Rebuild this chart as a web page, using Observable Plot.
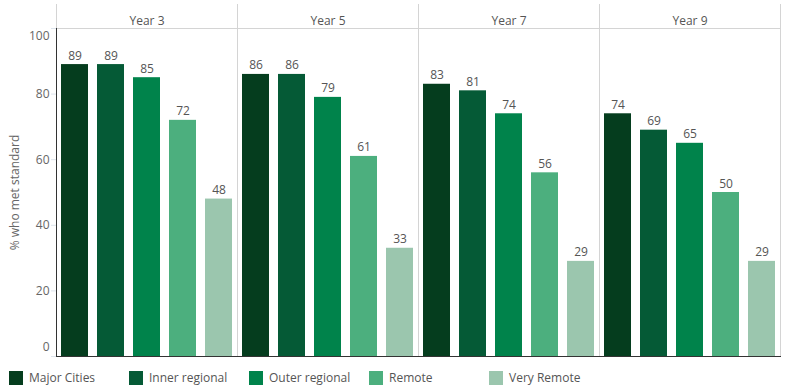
<!DOCTYPE html>
<html><head><meta charset="utf-8">
<script src="https://cdn.jsdelivr.net/npm/d3@7"></script>
<script src="https://cdn.jsdelivr.net/npm/@observablehq/plot@0.6"></script>
<style>
body{margin:0;background:#fff;font-family:"Open Sans",sans-serif;}
#legend{display:flex;padding-left:9px;padding-top:6px;height:19px;}
#legend .item{width:120px;display:flex;align-items:center;font-size:12px;color:#555;}
#legend .sw{width:14px;height:14px;margin-right:6px;flex:none;}
</style></head><body><div id="chart"></div><div id="legend"></div>
<script>
const years = ["Year 3", "Year 5", "Year 7", "Year 9"];
const regions = ["Major Cities", "Inner regional", "Outer regional", "Remote", "Very Remote"];
const colors = ["#053d1e", "#055a36", "#00834b", "#4caf7e", "#9bc6ae"];
const year3 = [89, 89, 85, 72, 48];
const year5 = [86, 86, 79, 61, 33];
const year7 = [83, 81, 74, 56, 29];
const year9 = [74, 69, 65, 50, 29];
const yTicks = [0, 20, 40, 60, 80, 100];
const yLabel = "% who met standard";

const series = [year3, year5, year7, year9];
const data = [];
years.forEach((yr, i) => regions.forEach((r, j) => data.push({year: yr, region: r, value: series[i][j]})));

const font = '"Open Sans", sans-serif';
const chart = Plot.plot({
  width: 789, height: 362,
  marginLeft: 54, marginRight: 8, marginTop: 28, marginBottom: 6,
  style: {fontFamily: font, fontSize: "12px", color: "#555", background: "#fff"},
  fx: {domain: years, padding: 0, axis: null},
  x: {domain: regions, paddingInner: 0.26, paddingOuter: 0.13, axis: null},
  y: {domain: [0, 100], axis: null},
  color: {domain: regions, range: colors},
  marks: [
    Plot.frame({anchor: "left", stroke: "#d4d4d4", insetTop: -24}),
    Plot.frame({anchor: "right", stroke: "#d4d4d4", insetTop: -24}),
    Plot.frame({anchor: "top", stroke: "#d4d4d4"}),
    Plot.barY(data, {fx: "year", x: "region", y: "value", fill: "region"}),
    Plot.text(data, {fx: "year", x: "region", y: "value", text: d => String(d.value), lineAnchor: "bottom", dy: -5, fill: "#555"}),
    Plot.text(years, {fx: d => d, text: d => d, frameAnchor: "top", dy: -12, fill: "#555"}),
    Plot.frame({anchor: "bottom", stroke: "#333"}),
    Plot.frame({anchor: "left", facetAnchor: "left", stroke: "#333"}),
    Plot.axisY({ticks: yTicks, tickSize: 5, tickFormat: () => "", stroke: "#dde4ec", label: null}),
    Plot.axisY({ticks: [20, 40, 60, 80], tickSize: 0, tickPadding: 7, fill: "#666", label: yLabel, labelAnchor: "center", labelOffset: 46, labelArrow: "none"}),
    Plot.axisY({ticks: [0], tickSize: 0, tickPadding: 7, dy: -9, fill: "#666", label: null}),
    Plot.axisY({ticks: [100], tickSize: 0, tickPadding: 7, dy: 8, fill: "#666", label: null})
  ]
});
document.getElementById("chart").appendChild(chart);

const legend = document.getElementById("legend");
regions.forEach((r, i) => {
  const item = document.createElement("div");
  item.className = "item";
  const sw = document.createElement("span");
  sw.className = "sw";
  sw.style.background = colors[i];
  const t = document.createElement("span");
  t.textContent = r;
  item.appendChild(sw); item.appendChild(t);
  legend.appendChild(item);
});
</script>
</body></html>
